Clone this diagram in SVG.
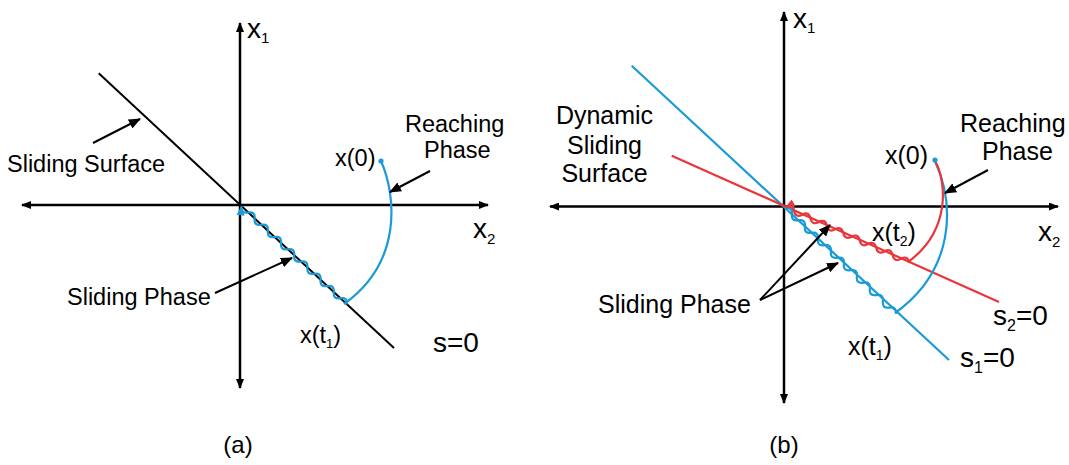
<svg xmlns="http://www.w3.org/2000/svg" width="1069" height="465" viewBox="0 0 1069 465">
<style>
text{font-family:"Liberation Sans",Arial,sans-serif;fill:#000}
.ax{stroke:#000;stroke-width:2.5;fill:none;marker-start:url(#ah);marker-end:url(#ah)}
.ann{stroke:#000;stroke-width:2;fill:none;marker-end:url(#aa)}
.blk{stroke:#000;stroke-width:2;fill:none}
.blu{stroke:#1a9ad6;stroke-width:2.2;fill:none}
.red{stroke:#e8363a;stroke-width:2.2;fill:none}
.ta{font-size:23.5px}
.tb{font-size:25px}
.big{font-size:28px}
</style>
<defs>
<marker id="ah" viewBox="0 0 10 8" refX="9" refY="4" markerWidth="10" markerHeight="8" markerUnits="userSpaceOnUse" orient="auto-start-reverse"><path d="M0,0 L10,4 L0,8 z" fill="#000"/></marker>
<marker id="aa" viewBox="0 0 12 10" refX="11" refY="5" markerWidth="12" markerHeight="10" markerUnits="userSpaceOnUse" orient="auto"><path d="M0,0 L12,5 L0,10 z" fill="#000"/></marker>
<marker id="abl" viewBox="0 0 10 8" refX="9" refY="4" markerWidth="10" markerHeight="8" markerUnits="userSpaceOnUse" orient="auto"><path d="M0,0 L10,4 L0,8 z" fill="#1a9ad6"/></marker>
<marker id="are" viewBox="0 0 10 8" refX="9" refY="4" markerWidth="10" markerHeight="8" markerUnits="userSpaceOnUse" orient="auto"><path d="M0,0 L10,4 L0,8 z" fill="#e8363a"/></marker>
</defs>

<!-- Panel (a) -->
<g id="panel-a">
<g id="axes-a">
<line class="ax" x1="22" y1="205" x2="488" y2="205"/>
<line class="ax" x1="240" y1="388" x2="240" y2="23"/>
<text x="247" y="38" font-size="28">x<tspan font-size="15" dy="5">1</tspan></text>
<text x="473" y="238" font-size="28">x<tspan font-size="15" dy="6">2</tspan></text>
</g>
<g id="surface-a">
<line class="blk" x1="98.7" y1="73.3" x2="394" y2="348"/>
<text class="big" x="433" y="352">s=0</text>
</g>
<g id="reaching-a">
<path class="blu" d="M381,161 C396,195 403,262 344,304"/>
<circle cx="381" cy="161" r="2.6" fill="#1a9ad6"/>
<text class="ta" x="335" y="166">x(0)</text>
</g>
<g id="sliding-a">
<path class="blu" transform="translate(240,205) rotate(42.9)" marker-end="url(#abl)" d="M146,0 q-4.5,-6 -9,0 t-9,0 t-9,0 t-9,0 t-9,0 t-9,0 t-9,0 t-9,0 t-9,0 t-9,0 t-9,0 t-9,0 t-9,0 t-9,0 t-9,0 t-9,0"/>
<text class="ta" x="300" y="343">x(t<tspan font-size="13" dy="5">1</tspan><tspan dy="-5">)</tspan></text>
</g>
<g id="labels-a">
<text class="ta" x="7" y="172">Sliding Surface</text>
<text class="ta" x="405" y="132">Reaching</text>
<text class="ta" x="424" y="158">Phase</text>
<text class="ta" x="67" y="305">Sliding Phase</text>
<text font-size="24" x="238" y="453" text-anchor="middle">(a)</text>
</g>
</g>

<!-- Panel (b) -->
<g id="panel-b">
<g id="axes-b">
<line class="ax" x1="550" y1="206.5" x2="1058" y2="206.5"/>
<line class="ax" x1="784" y1="403" x2="784" y2="12"/>
<text x="793" y="28" font-size="28">x<tspan font-size="15" dy="5">1</tspan></text>
<text x="1038" y="241" font-size="28">x<tspan font-size="15" dy="6">2</tspan></text>
</g>
<g id="surface-b1">
<line class="blu" x1="631.7" y1="65.7" x2="949" y2="360"/>
<text class="big" x="960" y="367">s<tspan font-size="16" dy="6">1</tspan><tspan dy="-6">=0</tspan></text>
</g>
<g id="surface-b2">
<line class="red" x1="671.7" y1="155.7" x2="999" y2="302"/>
<text class="big" x="993" y="325">s<tspan font-size="16" dy="6">2</tspan><tspan dy="-6">=0</tspan></text>
</g>
<g id="reaching-b">
<path class="blu" d="M935,161 C955,205 955,270 895,313"/>
<path class="red" d="M935,161 C946,180 952,230 908,262"/>
<circle cx="935" cy="160" r="2.6" fill="#1a9ad6"/>
<text class="tb" x="885" y="164">x(0)</text>
</g>
<g id="sliding-b1">
<path class="blu" transform="translate(784,206.5) rotate(43.8)" marker-end="url(#abl)" d="M155,0 q-4.5,-6 -9,0 t-9,0 t-9,0 t-9,0 t-9,0 t-9,0 t-9,0 t-9,0 t-9,0 t-9,0 t-9,0 t-9,0 t-9,0 t-9,0 t-9,0 t-9,0 t-9,0"/>
<text class="tb" x="848" y="355">x(t<tspan font-size="14" dy="5">1</tspan><tspan dy="-5">)</tspan></text>
</g>
<g id="sliding-b2">
<path class="red" transform="translate(784,206.5) rotate(24.1)" marker-end="url(#are)" d="M137,0 q-4.5,-6 -9,0 t-9,0 t-9,0 t-9,0 t-9,0 t-9,0 t-9,0 t-9,0 t-9,0 t-9,0 t-9,0 t-9,0 t-9,0 t-9,0 t-9,0"/>
<text class="tb" x="872" y="241">x(t<tspan font-size="14" dy="5">2</tspan><tspan dy="-5">)</tspan></text>
</g>
<g id="labels-b">
<text class="tb" x="604.5" y="124" text-anchor="middle">Dynamic</text>
<text class="tb" x="604.5" y="154" text-anchor="middle">Sliding</text>
<text class="tb" x="604.5" y="182" text-anchor="middle">Surface</text>
<text class="tb" x="960" y="132">Reaching</text>
<text class="tb" x="982" y="160">Phase</text>
<text class="tb" x="598" y="313">Sliding Phase</text>
<text font-size="24" x="784" y="453" text-anchor="middle">(b)</text>
</g>
</g>

<g id="connectors">
<line class="ann" x1="93" y1="143" x2="140" y2="119"/>
<line class="ann" x1="430" y1="171" x2="390" y2="192"/>
<line class="ann" x1="215" y1="293" x2="292" y2="258"/>
<line class="ann" x1="988" y1="170" x2="945" y2="193"/>
<line class="ann" x1="760" y1="300" x2="830" y2="225"/>
<line class="ann" x1="760" y1="300" x2="838" y2="263"/>
</g>
</svg>
